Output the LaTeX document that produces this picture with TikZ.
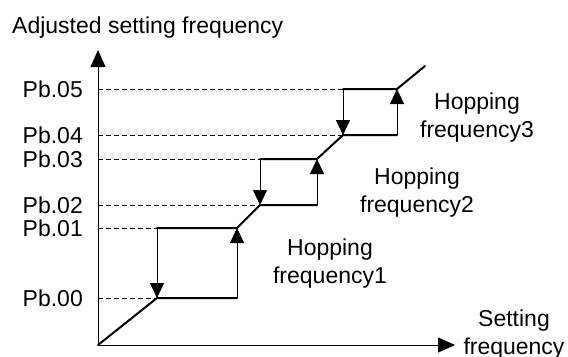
\documentclass[tikz,border=0pt]{standalone}
\usepackage{fontspec}
\setmainfont{Liberation Sans}
\usetikzlibrary{arrows.meta}
\begin{document}
\begin{tikzpicture}[x=1bp,y=1bp,
  lbl/.style={inner sep=0pt,font=\fontsize{23bp}{27.5bp}\selectfont},
  axisline/.style={line width=0.9bp,-{Triangle[width=15bp,length=17bp]}},
  heavy/.style={line width=2bp,line cap=round},
  jump/.style={line width=0.9bp,-{Triangle[width=14bp,length=15bp]}},
  guide/.style={line width=0.7bp,dash pattern=on 5bp off 3bp}]
\useasboundingbox (0,0) rectangle (568,356);
% key points
\coordinate (O) at (98,11);
\coordinate (ytip) at (98,306);
\coordinate (xtip) at (455,11);
\coordinate (A0) at (157,58);  \coordinate (A1) at (157,128);
\coordinate (B0) at (237,58);  \coordinate (B1) at (237,128);
\coordinate (C0) at (260,151); \coordinate (C1) at (260,197);
\coordinate (D0) at (317,151); \coordinate (D1) at (317,197);
\coordinate (E0) at (343,221); \coordinate (E1) at (343,267);
\coordinate (F0) at (397,221); \coordinate (F1) at (397,267);
\coordinate (G) at (425,290);
\coordinate (y0) at (98,58);  \coordinate (y1) at (98,128);
\coordinate (y2) at (98,151); \coordinate (y3) at (98,197);
\coordinate (y4) at (98,221); \coordinate (y5) at (98,267);
% guides
\draw[guide] (y0) -- (A0);
\draw[guide] (y1) -- (A1);
\draw[guide] (y2) -- (C0);
\draw[guide] (y3) -- (C1);
\draw[guide] (y4) -- (E0);
\draw[guide] (y5) -- (E1);
% axes
\draw[axisline] (O) -- (ytip);
\draw[axisline] (O) -- (xtip);
% heavy path
\draw[heavy] (O) -- (A0) -- (B0);
\draw[heavy] (A1) -- (B1) -- (C0) -- (D0);
\draw[heavy] (C1) -- (D1) -- (E0) -- (F0);
\draw[heavy] (E1) -- (F1) -- (G);
% jumps
\draw[jump] (A1) -- (A0);
\draw[jump] (B0) -- (B1);
\draw[jump] (C1) -- (C0);
\draw[jump] (D0) -- (D1);
\draw[jump] (E1) -- (E0);
\draw[jump] (F0) -- (F1);
% labels
\node[lbl,anchor=base west] (title) at (12,323) {Adjusted setting frequency};
\node[lbl,anchor=east] (p5) at (83,267) {Pb.05};
\node[lbl,anchor=east] (p4) at (83,221) {Pb.04};
\node[lbl,anchor=east] (p3) at (83,197) {Pb.03};
\node[lbl,anchor=east] (p2) at (83,151) {Pb.02};
\node[lbl,anchor=east] (p1) at (83,128) {Pb.01};
\node[lbl,anchor=east] (p0) at (83,58) {Pb.00};
\node[lbl,align=center,anchor=north] (h3) at (477,263) {Hopping\\frequency3};
\node[lbl,align=center,anchor=north] (h2) at (417,188) {Hopping\\frequency2};
\node[lbl,align=center,anchor=north] (h1) at (330,117) {Hopping\\frequency1};
\node[lbl,align=center,anchor=north] (sf) at (514,46) {Setting\\frequency};
\end{tikzpicture}
\end{document}
